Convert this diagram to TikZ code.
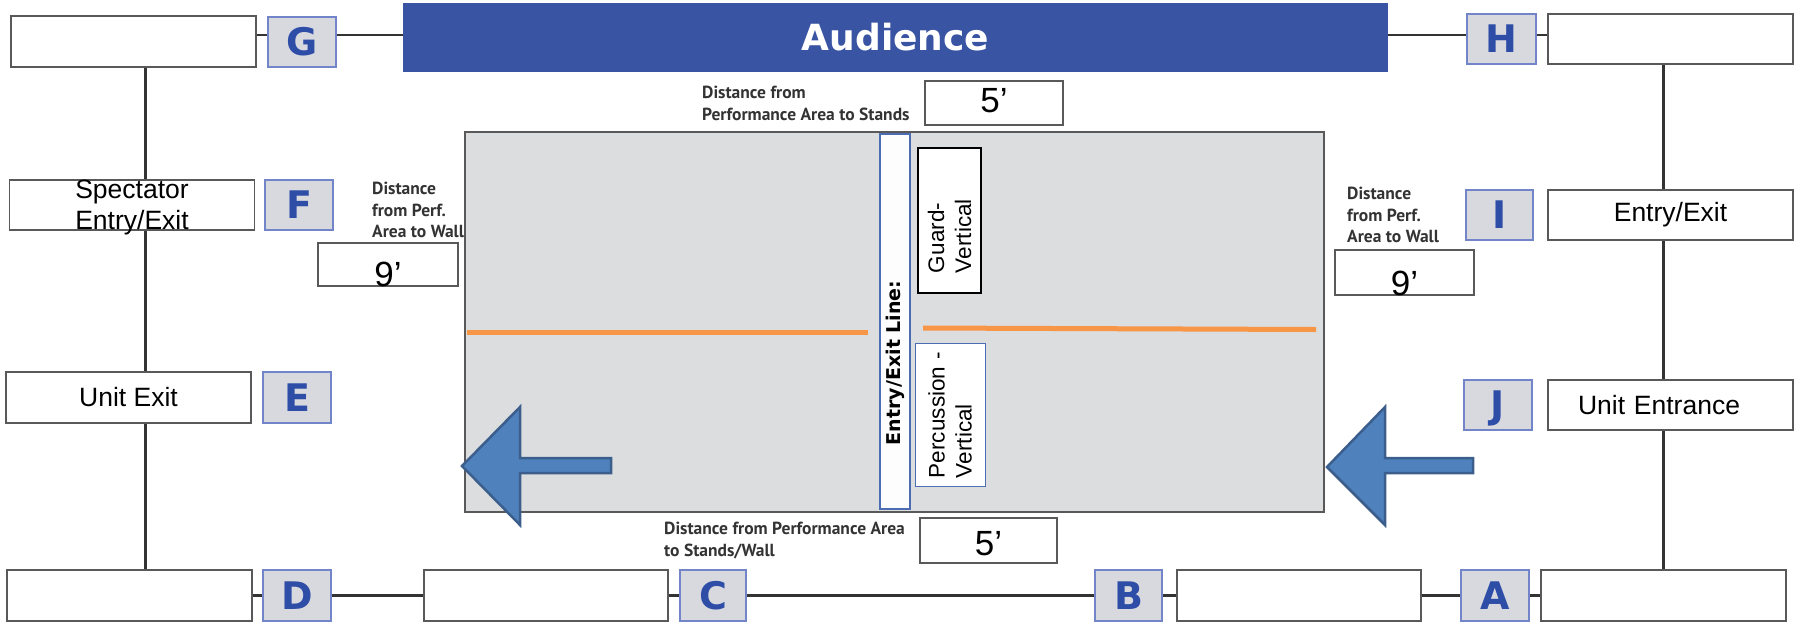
\documentclass[tikz,border=0pt]{standalone}
\usepackage{fontspec}
\setmainfont{Liberation Sans}
\newfontfamily\heavyfont{DejaVu Sans}
\newfontfamily\notefont{PT Sans}
\usetikzlibrary{backgrounds}
\definecolor{audblue}{HTML}{3A54A4}
\definecolor{letterblue}{HTML}{2E4DA7}
\definecolor{lettfill}{HTML}{D7D9DE}
\definecolor{lettdraw}{HTML}{7185C8}
\definecolor{areagray}{HTML}{DCDDDF}
\definecolor{markorange}{HTML}{F79646}
\definecolor{arrowfill}{HTML}{4F81BD}
\definecolor{arrowdraw}{HTML}{3B5E8C}
\definecolor{lineblue}{HTML}{4C6CB4}

\begin{document}
\begin{tikzpicture}[x=1pt,y=-1pt,
  every node/.style={inner sep=0pt},
  namebox/.style={draw=black!65,line width=1.5pt,fill=white,minimum width=245pt,minimum height=50pt,
    align=center,font=\fontsize{26.5}{31}\selectfont},
  letterbox/.style={draw=lettdraw,line width=1.5pt,fill=lettfill,minimum width=68pt,minimum height=50pt,
    text=letterblue,font=\heavyfont\bfseries\fontsize{38}{38}\selectfont,text height=27.7pt,text depth=0pt},
  valbox/.style={draw=black!65,line width=1.5pt,fill=white,minimum width=138pt,minimum height=44pt,
    font=\fontsize{35}{35}\selectfont},
  note/.style={anchor=north west,align=left,text=black!80,font=\notefont\bfseries\fontsize{17.5}{21.5}\selectfont},
  vbox/.style={rotate=90,align=left,font=\fontsize{22.5}{27}\selectfont},
  conn/.style={draw=black!80,line width=2.5pt},
  spine/.style={draw=black!80,line width=3pt}]
  \useasboundingbox (0,0) rectangle (1806,622);

  % performance area
  \draw[fill=areagray,draw=black!65,line width=2pt] (465,132) rectangle (1324,512);
  \draw[markorange,line width=5pt] (467,332) -- (868,332);
  \draw[markorange,line width=5pt] (923,328) -- (1316,329.5);
  \draw[fill=arrowfill,draw=arrowdraw,line width=2.5pt]
    (462,466) -- (520,407) -- (520,458) -- (611,458) -- (611,473) -- (520,473) -- (520,525) -- cycle;
  \draw[fill=arrowfill,draw=arrowdraw,line width=2.5pt]
    (1327,467) -- (1385,407) -- (1385,458) -- (1473,458) -- (1473,473) -- (1385,473) -- (1385,525) -- cycle;

  \node (entryline) [rotate=90,draw=lineblue,line width=1.5pt,fill=white!95!areagray,minimum width=375pt,
    minimum height=30pt,inner xsep=64pt,text width=247pt,align=left,
    font=\heavyfont\bfseries\fontsize{19}{19}\selectfont] at (895,321.5) {Entry/Exit Line:};
  \node (guard) [vbox,draw=black,line width=2.5pt,fill=white,minimum width=145pt,minimum height=63pt,
    inner xsep=20pt,text width=105pt] at (949.5,220.5) {Guard-\\Vertical};
  \node (perc) [vbox,draw=lineblue,line width=1pt,fill=white,minimum width=143pt,minimum height=70pt,
    inner xsep=8pt,text width=127pt] at (950,414.5) {Percussion -\\Vertical};

  % audience and top row
  \node (aud) [fill=audblue,minimum width=985pt,minimum height=69pt,text=white,text height=26pt,text depth=0pt,
    font=\heavyfont\bfseries\fontsize{36}{36}\selectfont] at (895.5,37.5) {Audience};
  \node (gbox) [namebox,minimum height=51pt] at (133.5,41.5) {};
  \node (G) [letterbox] at (302,42) {G};
  \node (H) [letterbox,minimum width=69pt] at (1501.5,39) {H};
  \node (hbox) [namebox] at (1670.5,39) {};

  % left column
  \node (specbox) [namebox,text depth=-4pt] at (132,205) {Spectator\\Entry/Exit};
  \node (F) [letterbox] at (299,205) {F};
  \node (exitbox) [namebox,minimum height=51pt] at (128.5,397.5) {Unit Exit};
  \node (E) [letterbox,minimum height=51pt] at (297,397.5) {E};

  % right column
  \node (I) [letterbox,minimum width=67pt] at (1499.5,215) {I};
  \node (entrybox) [namebox] at (1670.5,215) {Entry/Exit};
  \node (J) [letterbox] at (1498,405) {J};
  \node (entrancebox) [namebox,align=left,text width=185pt,inner xsep=30pt] at (1670.5,405) {Unit Entrance};

  % bottom row
  \node (dbox) [namebox,minimum height=51pt] at (129.5,595.5) {};
  \node (D) [letterbox,minimum height=51pt] at (297,595.5) {D};
  \node (cbox) [namebox,minimum width=244pt,minimum height=51pt] at (546,595.5) {};
  \node (C) [letterbox,minimum width=66pt,minimum height=51pt] at (713,595.5) {C};
  \node (B) [letterbox,minimum width=67pt,minimum height=51pt] at (1128.5,595.5) {B};
  \node (bbox) [namebox,minimum width=244pt,minimum height=51pt] at (1299,595.5) {};
  \node (A) [letterbox,minimum height=51pt] at (1495,595.5) {A};
  \node (abox) [namebox,minimum height=51pt] at (1663.5,595.5) {};

  % distances
  \node (topnote) [note] at (702,86) {Distance from\\Performance Area to Stands};
  \node (fivetop) [valbox,text height=31pt,text depth=13pt] at (994,103) {5’};
  \node (botnote) [note,font=\notefont\bfseries\fontsize{17.5}{22}\selectfont] at (664,522)
    {Distance from Performance Area\\to Stands/Wall};
  \node (fivebot) [valbox,minimum width=137pt,minimum height=45pt,text height=37pt,text depth=8pt]
    at (988.5,540.5) {5’};
  \node (leftnote) [note] at (372,182) {Distance\\from Perf.\\Area to Wall};
  \node (nineleft) [valbox,minimum width=140pt,minimum height=43pt,text height=43pt,text depth=0pt]
    at (388,264.5) {9’};
  \node (rightnote) [note] at (1347,187) {Distance\\from Perf.\\Area to Wall};
  \node (nineright) [valbox,minimum width=139pt,minimum height=45pt,text height=45pt,text depth=0pt]
    at (1404.5,272.5) {9’};

  % connectors
  \coordinate (lspine) at (145,0);
  \coordinate (rspine) at (1663,0);
  \begin{scope}[on background layer]
    \draw[spine] (gbox.south -| lspine) -- (dbox.north -| lspine);
    \draw[spine] (hbox.south -| rspine) -- (abox.north -| rspine);
  \end{scope}
  \path[conn]
    ([yshift=6.5pt]gbox.east) edge ([yshift=7pt]G.west)
    ([yshift=7pt]G.east) edge ([yshift=2.5pt]aud.west)
    ([yshift=2.5pt]aud.east) edge ([yshift=4pt]H.west)
    ([yshift=4pt]H.east) edge ([yshift=4pt]hbox.west);
  \path[conn]
    (dbox) edge (D)
    (D) edge (cbox)
    (cbox) edge (C)
    (C) edge (B)
    (B) edge (bbox)
    (bbox) edge (A)
    (A) edge (abox);
\end{tikzpicture}
\end{document}
